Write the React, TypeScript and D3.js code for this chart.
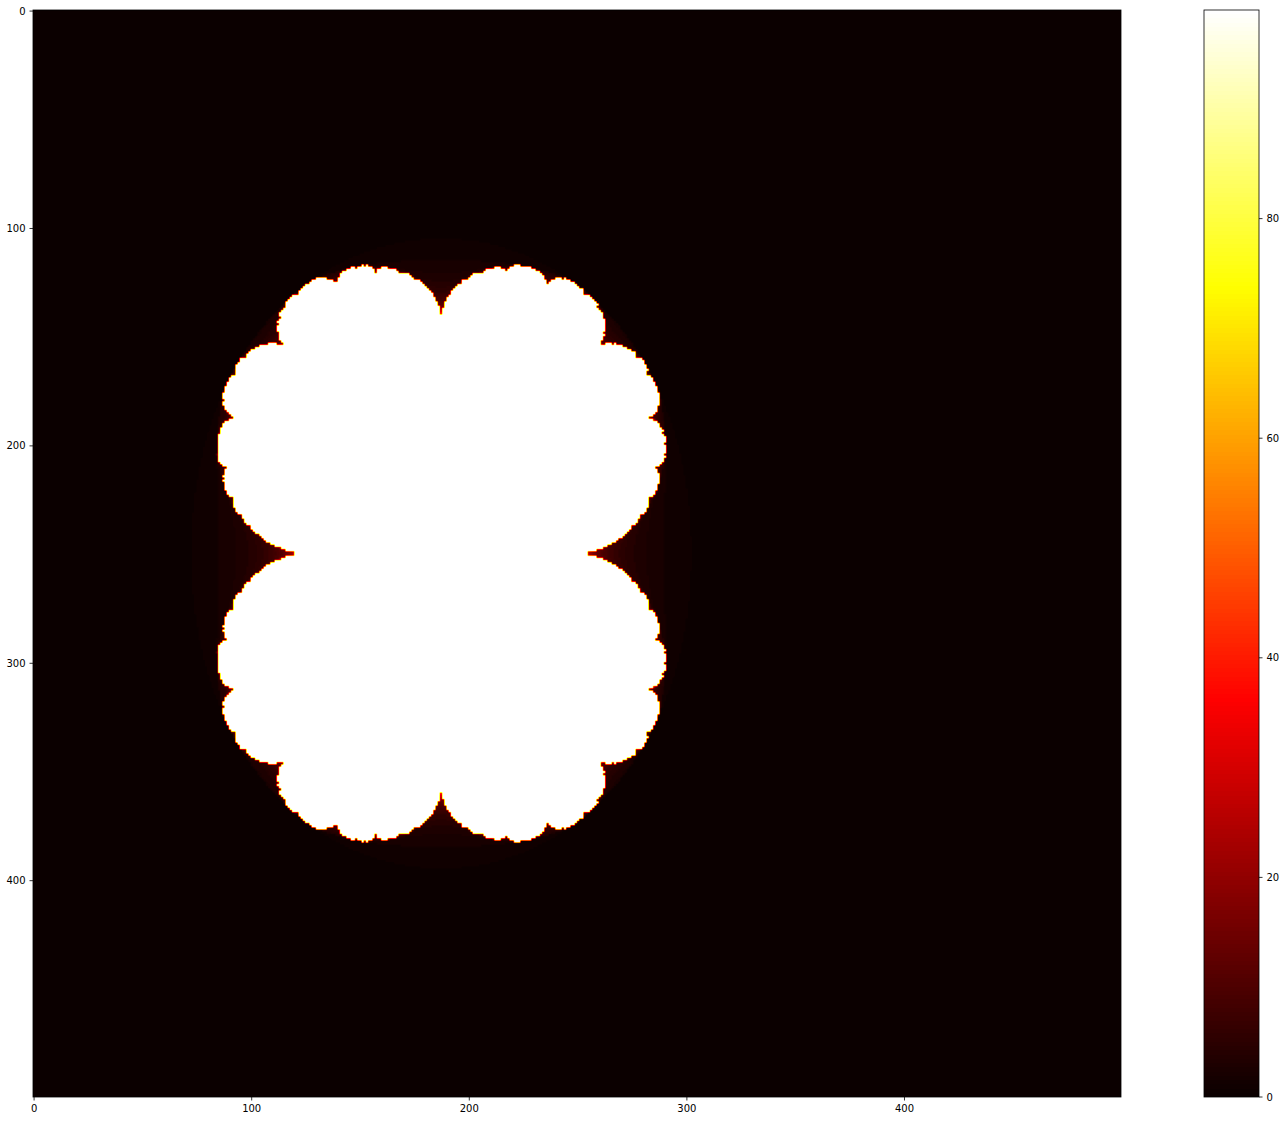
import React, { useEffect, useState } from 'react';
import * as d3 from 'd3';

// Julia set parameters (filled Julia set of z^2 + c, "cauliflower")
const C_RE = 0.25;
const C_IM = 0.0;
const RE_RANGE = [-1.5, 2.5];
const IM_RANGE = [-2.0, 2.0];
const GRID_COLS = 500;
const GRID_ROWS = 500;
const MAX_ITER = 100;
const ESCAPE_RADIUS = 1.1;

const X_TICKS = [0, 100, 200, 300, 400];
const Y_TICKS = [0, 100, 200, 300, 400];
const CBAR_TICKS = [0, 20, 40, 60, 80];
const CBAR_DOMAIN = [0, 99];

const W = 1285;
const H = 1121;
const AX = { left: 33, top: 10, right: 1121, bottom: 1097 };
const CB = { left: 1204, right: 1259, top: 10, bottom: 1097 };

function hot(t: number): [number, number, number] {
  const r = t < 0.365079 ? 0.0416 + (t / 0.365079) * (1 - 0.0416) : 1;
  const g = t < 0.365079 ? 0 : t < 0.746032 ? (t - 0.365079) / (0.746032 - 0.365079) : 1;
  const b = t < 0.746032 ? 0 : (t - 0.746032) / (1 - 0.746032);
  return [Math.round(r * 255), Math.round(g * 255), Math.round(b * 255)];
}

const LUT: [number, number, number][] = d3.range(256).map((i) => hot(i / 255));

function colorFor(v: number): [number, number, number] {
  const n = (v - CBAR_DOMAIN[0]) / (CBAR_DOMAIN[1] - CBAR_DOMAIN[0]);
  const idx = Math.max(0, Math.min(255, Math.floor(n * 256)));
  return LUT[idx];
}

function computeGrid(): Float32Array {
  const re = d3.scaleLinear().domain([0, GRID_COLS - 1]).range(RE_RANGE);
  const im = d3.scaleLinear().domain([0, GRID_ROWS - 1]).range(IM_RANGE);
  const out = new Float32Array(GRID_COLS * GRID_ROWS);
  const r2 = ESCAPE_RADIUS * ESCAPE_RADIUS;
  for (let row = 0; row < GRID_ROWS; row++) {
    const y0 = im(row);
    for (let col = 0; col < GRID_COLS; col++) {
      let zr = re(col);
      let zi = y0;
      let n = 0;
      for (let i = 0; i < MAX_ITER; i++) {
        n = i;
        const t = zr * zr - zi * zi + C_RE;
        zi = 2 * zr * zi + C_IM;
        zr = t;
        if (zr * zr + zi * zi > r2) break;
      }
      out[row * GRID_COLS + col] = n;
    }
  }
  return out;
}

// hanning-kernel (radius 1) resampling weights along one axis
function axisWeights(outLen: number, srcLen: number) {
  const idx0 = new Int32Array(outLen);
  const idx1 = new Int32Array(outLen);
  const w0 = new Float32Array(outLen);
  for (let p = 0; p < outLen; p++) {
    const s = ((p + 0.5) / outLen) * srcLen - 0.5;
    const i = Math.floor(s);
    const t = s - i;
    idx0[p] = Math.max(0, Math.min(srcLen - 1, i));
    idx1[p] = Math.max(0, Math.min(srcLen - 1, i + 1));
    w0[p] = 0.5 + 0.5 * Math.cos(Math.PI * t);
  }
  return { idx0, idx1, w0 };
}

export default function App() {
  const [url, setUrl] = useState<string>('');
  const [cbUrl, setCbUrl] = useState<string>('');

  useEffect(() => {
    const grid = computeGrid();
    const pw = AX.right - AX.left;
    const ph = AX.bottom - AX.top;
    const canvas = document.createElement('canvas');
    canvas.width = pw;
    canvas.height = ph;
    const ctx = canvas.getContext('2d')!;
    const img = ctx.createImageData(pw, ph);
    const wx = axisWeights(pw, GRID_COLS);
    const wy = axisWeights(ph, GRID_ROWS);
    for (let py = 0; py < ph; py++) {
      const r0 = wy.idx0[py] * GRID_COLS;
      const r1 = wy.idx1[py] * GRID_COLS;
      const a = wy.w0[py];
      for (let px = 0; px < pw; px++) {
        const c0 = wx.idx0[px];
        const c1 = wx.idx1[px];
        const b = wx.w0[px];
        const top = grid[r0 + c0] * b + grid[r0 + c1] * (1 - b);
        const bot = grid[r1 + c0] * b + grid[r1 + c1] * (1 - b);
        const v = top * a + bot * (1 - a);
        const c = colorFor(v);
        const k = (py * pw + px) * 4;
        img.data[k] = c[0];
        img.data[k + 1] = c[1];
        img.data[k + 2] = c[2];
        img.data[k + 3] = 255;
      }
    }
    ctx.putImageData(img, 0, 0);
    setUrl(canvas.toDataURL());

    const cw = CB.right - CB.left;
    const chh = CB.bottom - CB.top;
    const c2 = document.createElement('canvas');
    c2.width = cw;
    c2.height = chh;
    const ctx2 = c2.getContext('2d')!;
    const img2 = ctx2.createImageData(cw, chh);
    const cbScale = d3.scaleLinear().domain([chh, 0]).range(CBAR_DOMAIN);
    for (let py = 0; py < chh; py++) {
      const c = colorFor(cbScale(py + 0.5));
      for (let px = 0; px < cw; px++) {
        const k = (py * cw + px) * 4;
        img2.data[k] = c[0];
        img2.data[k + 1] = c[1];
        img2.data[k + 2] = c[2];
        img2.data[k + 3] = 255;
      }
    }
    ctx2.putImageData(img2, 0, 0);
    setCbUrl(c2.toDataURL());
  }, []);

  const x = d3.scaleLinear().domain([-0.5, GRID_COLS - 0.5]).range([AX.left, AX.right]);
  const y = d3.scaleLinear().domain([-0.5, GRID_ROWS - 0.5]).range([AX.top, AX.bottom]);
  const cy = d3.scaleLinear().domain(CBAR_DOMAIN).range([CB.bottom, CB.top]);

  const font = { fontFamily: 'DejaVu Sans', fontSize: 10, fill: '#000' } as const;

  return (
    <svg width={W} height={H} style={{ position: 'absolute', left: 0, top: 0, background: '#fff' }}>
      {url && (
        <image href={url} x={AX.left} y={AX.top} width={AX.right - AX.left} height={AX.bottom - AX.top} />
      )}
      <rect x={AX.left} y={AX.top} width={AX.right - AX.left} height={AX.bottom - AX.top}
        fill="none" stroke="#000" strokeWidth={0.8} />
      {X_TICKS.map((t) => (
        <g key={'x' + t} transform={`translate(${x(t)},${AX.bottom})`}>
          <line y2={3.5} stroke="#000" strokeWidth={0.8} />
          <text y={14.5} textAnchor="middle" style={font}>{t}</text>
        </g>
      ))}
      {Y_TICKS.map((t) => (
        <g key={'y' + t} transform={`translate(${AX.left},${y(t)})`}>
          <line x2={-3.5} stroke="#000" strokeWidth={0.8} />
          <text x={-7.5} dy="0.35em" textAnchor="end" style={font}>{t}</text>
        </g>
      ))}
      {cbUrl && (
        <image href={cbUrl} x={CB.left} y={CB.top} width={CB.right - CB.left} height={CB.bottom - CB.top} />
      )}
      <rect x={CB.left} y={CB.top} width={CB.right - CB.left} height={CB.bottom - CB.top}
        fill="none" stroke="#000" strokeWidth={0.8} />
      {CBAR_TICKS.map((t) => (
        <g key={'c' + t} transform={`translate(${CB.right},${cy(t)})`}>
          <line x2={3.5} stroke="#000" strokeWidth={0.8} />
          <text x={7.5} dy="0.35em" textAnchor="start" style={font}>{t}</text>
        </g>
      ))}
    </svg>
  );
}
